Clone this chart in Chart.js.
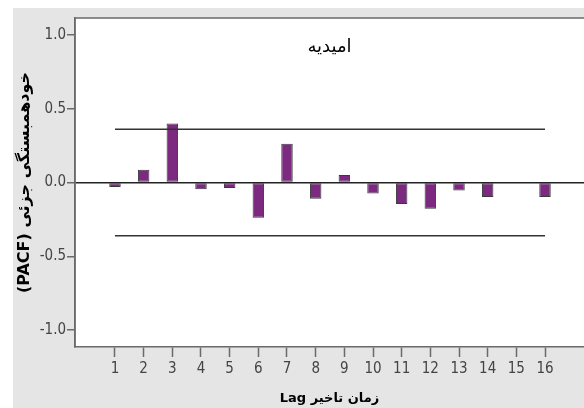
<!DOCTYPE html>
<html>
<head>
<meta charset="utf-8">
<script src="https://cdn.jsdelivr.net/npm/chart.js@4/dist/chart.umd.min.js"></script>
<style>
  html, body { margin: 0; padding: 0; background: #fff; }
  #wrap { position: absolute; left: 13px; top: 8px; width: 571px; height: 400px; background: #e5e5e5; }
  canvas { display: block; }
</style>
</head>
<body>
<div id="wrap"><canvas id="pacf" width="571" height="400"></canvas></div>
<script>
/* PACF امیدیه — داده‌ها */
var lags      = [1, 2, 3, 4, 5, 6, 7, 8, 9, 10, 11, 12, 13, 14, 15, 16];
var pacf      = [-0.03, 0.087, 0.40, -0.045, -0.038, -0.238, 0.262, -0.11, 0.05, -0.074, -0.146, -0.177, -0.054, -0.099, -0.005, -0.099];
var confLimit = [0.36, -0.36];
var yTicks    = [-1.0, -0.5, 0.0, 0.5, 1.0];

var fontNarrow = "'Liberation Sans Narrow', 'Arial Narrow', 'DejaVu Sans Condensed', sans-serif";
var fontFa     = "'DejaVu Sans', 'Noto Sans', sans-serif";

// متن راست‌به‌چپ داخل بوم چپ‌به‌راست
function rtl(s) { return '\u202B' + s + '\u202C'; }

/* زمینه سفید و قاب ناحیه رسم + عنوان داخل نمودار */
var plotFrame = {
  id: 'plotFrame',
  beforeDraw: function(chart) {
    var a = chart.chartArea, ctx = chart.ctx;
    ctx.save();
    ctx.fillStyle = '#ffffff';
    ctx.fillRect(a.left, a.top, a.right - a.left, a.bottom - a.top);
    ctx.restore();
  },
  afterDraw: function(chart) {
    var a = chart.chartArea, ctx = chart.ctx;
    ctx.save();
    ctx.strokeStyle = '#6a6a6a';
    ctx.lineWidth = 1.5;
    ctx.beginPath();
    ctx.moveTo(a.left, a.bottom);
    ctx.lineTo(a.left, a.top);
    ctx.lineTo(a.right, a.top);
    ctx.stroke();
    ctx.fillStyle = '#000';
    ctx.font = '18px ' + fontFa;
    ctx.textAlign = 'center';
    ctx.textBaseline = 'middle';
    ctx.fillText(rtl('امیدیه'), (a.left + a.right) / 2, a.top + 29);
    ctx.restore();
  }
};

function confLine(v) {
  return {
    type: 'line',
    data: [{ x: lags[0], y: v }, { x: lags[lags.length - 1], y: v }],
    borderColor: '#333333',
    borderWidth: 1.5,
    pointRadius: 0,
    fill: false,
    order: 0,
  };
}

new Chart(document.getElementById('pacf'), {
  type: 'bar',
  data: {
    datasets: [
      {
        type: 'bar',
        data: lags.map(function(l, i) { return { x: l, y: pacf[i] }; }),
        backgroundColor: '#7b2a80',
        borderColor: '#3a3a3a',
        borderWidth: 1,
        borderSkipped: false,
        barPercentage: 0.4,
        categoryPercentage: 1,
        order: 1,
      },
      confLine(confLimit[0]),
      confLine(confLimit[1]),
    ],
  },
  options: {
    responsive: false,
    animation: false,
    layout: { padding: { top: 8, left: 0, right: 0, bottom: 0 } },
    plugins: { legend: { display: false }, tooltip: { enabled: false } },
    scales: {
      x: {
        type: 'linear',
        offset: false,
        min: -0.395,
        max: 17.36,
        afterBuildTicks: function(s) { s.ticks = lags.map(function(v) { return { value: v }; }); },
        afterFit: function(s) { s.height = 61; },
        border: { display: true, color: '#6a6a6a', width: 1.5 },
        grid: { offset: false, drawOnChartArea: false, tickLength: 10, tickColor: '#6a6a6a', tickWidth: 1.5 },
        ticks: { color: '#444', font: { family: fontNarrow, size: 15 }, padding: 3, maxRotation: 0, autoSkip: false },
        title: {
          display: true,
          text: rtl('زمان تاخیر Lag'),
          color: '#000',
          font: { family: fontFa, size: 13, weight: 'bold' },
          padding: { top: 2, bottom: 2 },
        },
      },
      y: {
        min: -1.114,
        max: 1.114,
        afterBuildTicks: function(s) { s.ticks = yTicks.map(function(v) { return { value: v }; }); },
        afterFit: function(s) { s.width = 62; },
        border: { display: true, color: '#6a6a6a', width: 1.5 },
        grid: {
          drawOnChartArea: true,
          tickLength: 8,
          tickColor: '#6a6a6a',
          tickWidth: 1.5,
          lineWidth: 1.5,
          color: function(c) { return c.tick && c.tick.value === 0 ? '#222' : 'rgba(0,0,0,0)'; },
        },
        ticks: {
          color: '#444',
          font: { family: fontNarrow, size: 15 },
          padding: 1,
          callback: function(v) { return v.toFixed(1); },
        },
        title: {
          display: true,
          text: rtl('خودهمبستگی جزئی (PACF)'),
          color: '#000',
          font: { family: fontFa, size: 16, weight: 'bold' },
          padding: { top: 2, bottom: 0 },
        },
      },
    },
  },
  plugins: [plotFrame],
});
</script>
</body>
</html>
